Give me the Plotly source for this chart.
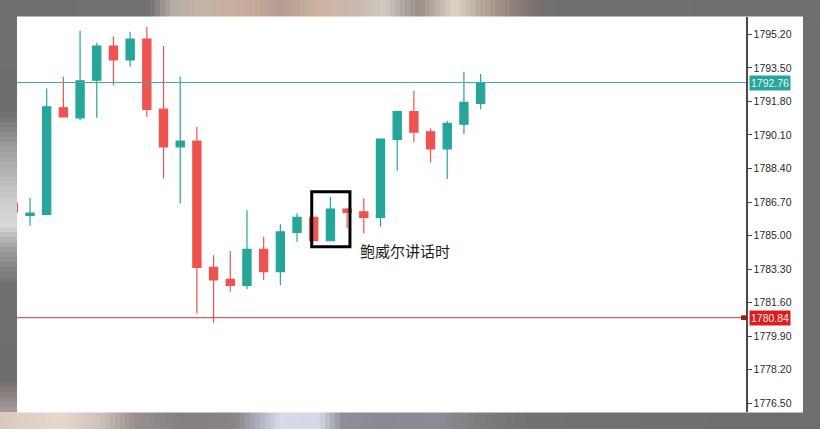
import plotly.graph_objects as go

# ---- data ----
idx = list(range(29))
open_ = [1786.65, 1786.03, 1786.08, 1791.48, 1790.97, 1792.88, 1794.61, 1793.90, 1794.96, 1791.41,
         1789.50, 1789.79, 1783.39, 1782.78, 1782.48, 1784.30, 1783.17, 1785.16, 1785.92, 1784.74,
         1786.35, 1786.21, 1785.92, 1789.88, 1791.28, 1790.26, 1789.39, 1790.65, 1791.70]
high = [1786.70, 1786.90, 1792.46, 1793.05, 1795.38, 1794.77, 1795.11, 1795.33, 1795.59, 1794.61,
        1793.05, 1790.52, 1784.01, 1784.22, 1786.29, 1784.94, 1785.59, 1786.13, 1785.95, 1786.97,
        1786.40, 1786.89, 1789.92, 1791.30, 1792.34, 1790.44, 1790.82, 1793.30, 1793.19]
low = [1786.15, 1785.50, 1786.05, 1791.00, 1790.86, 1790.97, 1792.63, 1793.56, 1791.02, 1787.90,
       1786.63, 1781.06, 1780.58, 1782.15, 1782.28, 1782.75, 1782.48, 1784.69, 1784.72, 1784.72,
       1785.37, 1785.11, 1785.45, 1788.29, 1789.73, 1788.71, 1787.87, 1790.15, 1791.40]
close = [1786.19, 1786.14, 1791.53, 1791.02, 1792.85, 1794.61, 1793.90, 1794.96, 1791.40, 1789.50,
         1789.79, 1783.39, 1782.75, 1782.48, 1784.30, 1783.17, 1785.19, 1785.92, 1784.74, 1786.35,
         1786.18, 1785.92, 1789.89, 1791.28, 1790.25, 1789.39, 1790.69, 1791.75, 1792.76]

tick_vals = [1795.20, 1793.50, 1791.80, 1790.10, 1788.40, 1786.70, 1785.00,
             1783.30, 1781.60, 1779.90, 1778.20, 1776.50]
tick_text = ["%.2f" % v for v in tick_vals]

level_high = 1792.76
level_low = 1780.84
note_text = "鲍威尔讲话时"
box_x = [17.88, 20.17]
box_y = [1784.44, 1787.22]
note_pos = (20.65, 1784.27)

# ---- layout geometry ----
W, H = 820, 429
L, R, T, B = 17, 74, 17, 17
PW, PH = W - L - R, H - T - B

def px(x):
    return (x - L) / PW

def py(y):
    return (H - B - y) / PH

UP = "#26a69a"
DOWN = "#ef5350"

fig = go.Figure()
fig.add_trace(go.Candlestick(
    x=idx, open=open_, high=high, low=low, close=close,
    increasing=dict(line=dict(color=UP, width=1.2), fillcolor=UP),
    decreasing=dict(line=dict(color=DOWN, width=1.2), fillcolor=DOWN),
    whiskerwidth=0, showlegend=False, hoverinfo="skip",
))

shapes = []

def hexc(c):
    c = c.lstrip("#")
    return tuple(int(c[i:i + 2], 16) for i in (0, 2, 4))

def interp(stops, p):
    for (p0, c0), (p1, c1) in zip(stops, stops[1:]):
        if p0 <= p <= p1:
            t = 0 if p1 == p0 else (p - p0) / (p1 - p0)
            a, b = hexc(c0), hexc(c1)
            return "rgb(%d,%d,%d)" % tuple(round(a[i] + (b[i] - a[i]) * t) for i in range(3))
    return stops[-1][1]

# base background (blurred photo approximation)
top_stops = [(0, "#707070"), (150, "#717171"), (172, "#b3aca2"), (200, "#c4b4a6"), (250, "#c9ab9c"),
             (280, "#b39a90"), (320, "#d0b4a0"), (360, "#c8b8b0"), (385, "#d3cbc0"), (405, "#aaa39c"),
             (420, "#9a9088"), (455, "#ddd5c5"), (480, "#b8a898"), (515, "#8e7c78"), (540, "#747070"),
             (560, "#707070"), (820, "#6f6f6f")]
bot_stops = [(0, "#d8c8c0"), (60, "#e5d8cf"), (100, "#d0c2ba"), (135, "#989090"), (180, "#858080"),
             (235, "#888484"), (255, "#a8a8b8"), (280, "#d8dae8"), (320, "#d5d7e5"), (342, "#908e98"),
             (380, "#8a8890"), (440, "#8c8a92"), (490, "#7a7a7a"), (530, "#727272"), (820, "#6e6e6e")]
left_stops = [(0, "#707070"), (110, "#6c6c6c"), (150, "#a0a0a0"), (200, "#cccccc"), (225, "#d8d8d8"),
              (250, "#9c9c9c"), (285, "#707070"), (380, "#6c6c6c"), (429, "#c8b8b0")]

step = 5
for x in range(0, W, step):
    shapes.append(dict(type="rect", xref="paper", yref="paper", x0=px(x), x1=px(x + step),
                       y0=py(T), y1=py(0), fillcolor=interp(top_stops, x + step / 2),
                       line=dict(width=0), layer="below"))
    shapes.append(dict(type="rect", xref="paper", yref="paper", x0=px(x), x1=px(x + step),
                       y0=py(H), y1=py(H - B), fillcolor=interp(bot_stops, x + step / 2),
                       line=dict(width=0), layer="below"))
for y in range(T, H - B, step):
    shapes.append(dict(type="rect", xref="paper", yref="paper", x0=px(0), x1=px(L),
                       y0=py(y + step), y1=py(y), fillcolor=interp(left_stops, y + step / 2),
                       line=dict(width=0), layer="below"))
    shapes.append(dict(type="rect", xref="paper", yref="paper", x0=px(803), x1=px(W),
                       y0=py(y + step), y1=py(y), fillcolor="#6e6e6e",
                       line=dict(width=0), layer="below"))

# white panel
shapes.append(dict(type="rect", xref="paper", yref="paper", x0=px(L), x1=px(803),
                   y0=py(412.5), y1=py(16.5), fillcolor="white", line=dict(width=0), layer="below"))

# horizontal price levels
shapes.append(dict(type="line", xref="paper", yref="y", x0=0, x1=1, y0=level_high, y1=level_high,
                   line=dict(color="#4aa9a1", width=1)))
shapes.append(dict(type="line", xref="paper", yref="y", x0=0, x1=1, y0=level_low, y1=level_low,
                   line=dict(color="#d83232", width=1)))
# small marker square on the axis
shapes.append(dict(type="rect", xref="paper", yref="y", x0=px(741), x1=px(746.5),
                   y0=level_low - 0.12, y1=level_low + 0.12, fillcolor="#9a1c1c", line=dict(width=0)))

# annotation box
shapes.append(dict(type="rect", xref="x", yref="y", x0=box_x[0], x1=box_x[1], y0=box_y[0], y1=box_y[1],
                   line=dict(color="black", width=3), fillcolor="rgba(0,0,0,0)"))

annotations = [
    dict(x=note_pos[0], y=note_pos[1], xref="x", yref="y", text=note_text, showarrow=False,
         xanchor="left", yanchor="middle",
         font=dict(family="Noto Sans CJK SC", size=15, color="#1e1e1e")),
    dict(x=1, y=level_high, xref="paper", yref="y", text="%.2f" % level_high, showarrow=False,
         xanchor="left", yanchor="middle", xshift=3, bgcolor="#26a69a", borderpad=1,
         font=dict(family="Liberation Sans", size=10.5, color="#e8f6f4")),
    dict(x=1, y=level_low, xref="paper", yref="y", text="%.2f" % level_low, showarrow=False,
         xanchor="left", yanchor="middle", xshift=3, bgcolor="#d91e1e", borderpad=1,
         font=dict(family="Liberation Sans", size=10.5, color="#fbe6e6")),
]

fig.update_layout(
    width=W, height=H,
    margin=dict(l=L, r=R, t=T, b=B),
    paper_bgcolor="#6e6e6e",
    plot_bgcolor="white",
    shapes=shapes,
    annotations=annotations,
    boxgap=0.3,
    hovermode=False,
    xaxis=dict(range=[0.221, 43.9], visible=False, rangeslider=dict(visible=False), fixedrange=True),
    yaxis=dict(side="right", range=[1776.06, 1796.08], tickvals=tick_vals, ticktext=tick_text,
               showgrid=False, zeroline=False, showline=True, linecolor="#4a4a4a", linewidth=1.5,
               ticks="outside", ticklen=4, tickcolor="#444", tickwidth=1, fixedrange=True,
               tickfont=dict(family="Liberation Sans", size=10.5, color="#2a2a2a")),
    font=dict(family="Liberation Sans"),
)

fig.write_html("out.html", config={"displayModeBar": False, "staticPlot": True},
               post_script="document.body.style.margin='0';document.body.style.overflow='hidden';")
